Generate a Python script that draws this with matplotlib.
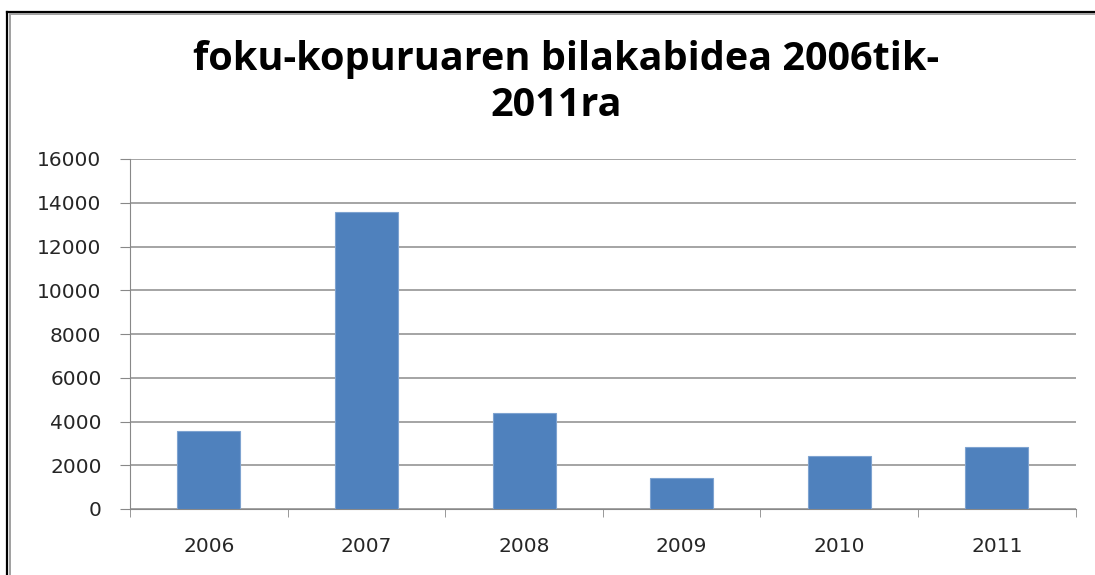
import matplotlib
matplotlib.use("Agg")
import matplotlib.pyplot as plt
from matplotlib.lines import Line2D
import numpy as np

# data
years = ["2006", "2007", "2008", "2009", "2010", "2011"]
counts = [3550, 13560, 4390, 1400, 2410, 2850]
y_ticks = [0, 2000, 4000, 6000, 8000, 10000, 12000, 14000, 16000]

W, H = 1095, 575
fig = plt.figure(figsize=(W / 100, H / 100), dpi=100)
ax = fig.add_axes([130 / W, 1 - 509 / H, (1075.7 - 130) / W, (509 - 159) / H])

x = np.arange(len(years))
ax.bar(x, counts, width=0.4, color="#4F81BD", edgecolor="#7EA3D0", linewidth=0.8, zorder=3)

ax.set_xlim(-0.5, len(years) - 0.5)
ax.set_ylim(0, 16000)
ax.set_yticks(y_ticks)
ax.set_yticklabels([str(v) for v in y_ticks], fontsize=14.5, family="DejaVu Sans", color="#262626")
ax.set_xticks(x)
ax.set_xticklabels(years, fontsize=14.5, family="DejaVu Sans", color="#262626")
ax.set_xticks(np.arange(len(years) + 1) - 0.5, minor=True)
ax.tick_params(axis="x", which="major", length=0, pad=20)
ax.tick_params(axis="x", which="minor", length=6, color="#888888", direction="out")
ax.tick_params(axis="y", length=7.5, color="#888888", direction="out", pad=13)

ax.grid(axis="y", color="#8c8c8c", linewidth=1.1, zorder=0)
for s in ["top", "right"]:
    ax.spines[s].set_visible(False)
ax.spines["left"].set_color("#888888")
ax.spines["bottom"].set_color("#888888")
ax.spines["left"].set_zorder(4)

fig.text(566.5 / W, 1 - 70 / H, "foku-kopuruaren bilakabidea 2006tik-", ha="center", va="baseline",
         fontsize=28.5, fontweight="bold", family="Open Sans")
fig.text(556 / W, 1 - 116.5 / H, "2011ra", ha="center", va="baseline",
         fontsize=28.5, fontweight="bold", family="Open Sans")

# chart frame (black outer line, grey inner line)
fig.add_artist(Line2D([7 / W, 7 / W], [0, 1 - 12 / H], transform=fig.transFigure, color="black", linewidth=1.6))
fig.add_artist(Line2D([7 / W, 1], [1 - 12 / H, 1 - 12 / H], transform=fig.transFigure, color="black", linewidth=1.6))
fig.add_artist(Line2D([9.5 / W, 9.5 / W], [0, 1 - 14 / H], transform=fig.transFigure, color="#a0a0a0", linewidth=1.4))
fig.add_artist(Line2D([9.5 / W, 1], [1 - 14 / H, 1 - 14 / H], transform=fig.transFigure, color="#a0a0a0", linewidth=1.4))

fig.savefig("out.png", dpi=100)
